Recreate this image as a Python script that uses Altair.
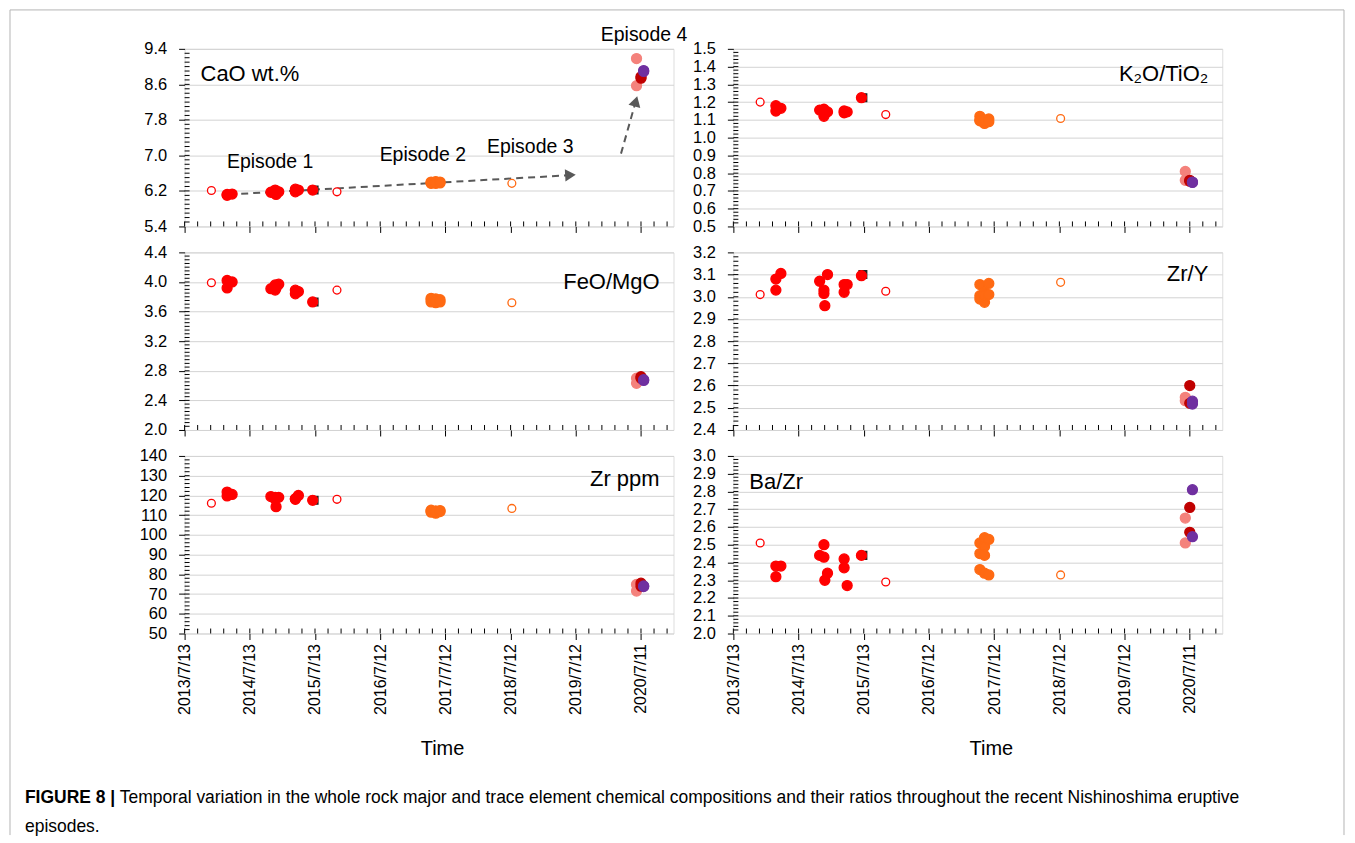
import datetime as dt
import altair as alt
import pandas as pd

# ---------------- data ----------------
sample_dates = [
    "2013/12/10",
    "2014/03/08", "2014/03/08", "2014/04/05",
    "2014/11/08", "2014/12/02", "2014/12/02", "2014/12/07", "2014/12/22",
    "2015/03/25", "2015/03/25", "2015/04/11",
    "2015/07/08",
    "2015/06/30",
    "2015/11/13",
    "2017/04/23", "2017/04/23", "2017/04/23",
    "2017/05/19", "2017/05/19", "2017/05/19", "2017/05/19",
    "2017/06/12", "2017/06/12",
    "2018/07/19",
    "2020/06/16", "2020/06/16",
    "2020/07/11", "2020/07/11",
    "2020/07/26", "2020/07/26",
]
sample_kind = (["E1o"] + ["E1"] * 11 + ["SQ"] + ["E1"] + ["E1o"] + ["E2"] * 9 + ["E3o"]
               + ["E4a"] * 2 + ["E4b"] * 2 + ["E4c"] * 2)

cao = [6.21, 6.12, 6.10, 6.13, 6.17, 6.22, 6.15, 6.12, 6.18, 6.24, 6.18, 6.22,
       6.22, 6.22, 6.18, 6.38, 6.40, 6.37, 6.39, 6.38, 6.41, 6.37, 6.40, 6.38, 6.37,
       9.18, 8.57, 8.77, 8.74, 8.91, 8.89]
k2o_tio2 = [1.20, 1.18, 1.15, 1.165, 1.155, 1.16, 1.12, 1.145, 1.145, 1.15, 1.14,
            1.145, 1.225, 1.225, 1.13, 1.12, 1.10, 1.095, 1.09, 1.08, 1.085, 1.10, 1.105,
            1.09, 1.108, 0.81, 0.76, 0.76, 0.755, 0.75, 0.748]
feo_mgo = [3.99, 4.02, 3.92, 4.00, 3.91, 3.96, 3.89, 3.92, 3.97, 3.89, 3.84, 3.87,
           3.73, 3.73, 3.89, 3.78, 3.73, 3.76, 3.75, 3.72, 3.77, 3.74, 3.76, 3.73, 3.72,
           2.70, 2.63, 2.72, 2.70, 2.68, 2.67]
zr_y = [3.01, 3.08, 3.03, 3.105, 3.07, 3.03, 3.015, 2.96, 3.10, 3.02, 3.055, 3.055,
        3.10, 3.095, 3.025, 3.055, 3.005, 2.99, 2.975, 3.02, 3.00, 3.01, 3.06, 3.01, 3.065,
        2.547, 2.532, 2.60, 2.52, 2.53, 2.517]
zr_ppm = [116, 121.7, 119.7, 120.5, 119.4, 118, 119, 114.3, 119, 118.3, 118, 120,
          117.5, 117.5, 118, 112, 111.5, 112.5, 111, 112, 111.5, 112, 111.8, 112.3, 113.4,
          74.9, 71.5, 75.5, 74, 74.1, 73.8]
ba_zr = [2.51, 2.38, 2.32, 2.38, 2.44, 2.50, 2.43, 2.30, 2.34, 2.42, 2.37, 2.27,
         2.44, 2.44, 2.29, 2.51, 2.45, 2.36, 2.54, 2.49, 2.44, 2.34, 2.53, 2.33, 2.33,
         2.65, 2.51, 2.71, 2.57, 2.81, 2.545]

x_tick_labels = ["2013/7/13", "2014/7/13", "2015/7/13", "2016/7/12",
                 "2017/7/12", "2018/7/12", "2019/7/12", "2020/7/11"]
x_domain = ["2013/7/13", "2021/1/9"]

episode_text = ["Episode 1", "Episode 2", "Episode 3", "Episode 4"]
episode_dates = ["2014/11/04", "2017/03/08", "2018/10/30", "2020/07/28"]
episode_vals = [6.86, 7.0, 7.19, 9.72]

arrow1_dates = ["2014/03/20", "2019/06/12"]
arrow1_vals = [6.12, 6.555]
arrow2_dates = ["2020/03/21", "2020/06/12"]
arrow2_vals = [7.04, 8.22]

caption_bold = "FIGURE 8 |"
caption_line1 = ("Temporal variation in the whole rock major and trace element chemical "
                 "compositions and their ratios throughout the recent Nishinoshima eruptive")
caption_line2 = "episodes."

# ---------------- styling ----------------
FONT = "Liberation Sans"
W, H = 490, 178
RED, ORANGE = "#FF0000", "#FF6A13"
kind_style = {
    "SQ": dict(shape="square", fill="#222222", stroke="#222222", size=60),
    "E1o": dict(shape="circle", fill="white", stroke=RED, size=62),
    "E1": dict(shape="circle", fill=RED, stroke=RED, size=100),
    "E2": dict(shape="circle", fill=ORANGE, stroke=ORANGE, size=100),
    "E3o": dict(shape="circle", fill="white", stroke=ORANGE, size=62),
    "E4a": dict(shape="circle", fill="#F4827C", stroke="#F4827C", size=100),
    "E4b": dict(shape="circle", fill="#C00000", stroke="#C00000", size=100),
    "E4c": dict(shape="circle", fill="#7030A0", stroke="#7030A0", size=100),
}


def to_dt(s):
    y, m, d = (int(p) for p in s.split("/"))
    return alt.DateTime(year=y, month=m, date=d)


x_vals = [to_dt(s) for s in x_tick_labels]
xscale = alt.Scale(domain=[to_dt(x_domain[0]), to_dt(x_domain[1])], nice=False)

d0 = dt.date(2013, 7, 13)
d1 = dt.date(2021, 1, 9)
x_minor = []
k = 0
while d0 + dt.timedelta(days=73 * k) <= d1:
    d = d0 + dt.timedelta(days=73 * k)
    x_minor.append(f"{d.year}/{d.month:02d}/{d.day:02d}")
    k += 1


def x_enc(bottom):
    if bottom:
        ax = alt.Axis(values=x_vals, labelExpr="timeFormat(datum.value, '%Y/%-m/%-d')",
                      labelAngle=270, labelFontSize=16, labelFont=FONT, labelColor="black",
                      labelPadding=4, tickSize=6, tickColor="black", grid=False, domain=False,
                      titleFontSize=20, titleFont=FONT, titleFontWeight="normal",
                      titleColor="black", titlePadding=24, titleX=W / 2 + 13)
        return alt.X("date:T", scale=xscale, axis=ax, title="Time")
    ax = alt.Axis(values=x_vals, labels=False, tickSize=6, tickColor="black",
                  grid=False, domain=False)
    return alt.X("date:T", scale=xscale, axis=ax, title=None)


def panel(values, label, side, label_y, ymin, ymax, ystep, yminor, fmt, bottom, extra=None):
    nmaj = int(round((ymax - ymin) / ystep))
    majors = [round(ymin + i * ystep, 6) for i in range(nmaj + 1)]
    nmin = int(round((ymax - ymin) / yminor))
    minors = [round(ymin + i * yminor, 6) for i in range(1, nmin)]
    yscale = alt.Scale(domain=[ymin, ymax], nice=False, zero=False)
    yax = alt.Axis(values=majors, format=fmt, tickSize=6, tickColor="black",
                   labelPadding=12, labelFontSize=16.5, labelFont=FONT, labelColor="black",
                   grid=True, gridColor="#d3d3d3", gridWidth=1, domain=False)
    Y = alt.Y("val:Q", scale=yscale, axis=yax, title=None)
    X = x_enc(bottom)

    df = pd.DataFrame({"date": sample_dates, "val": values, "kind": sample_kind})
    layers = []
    layers.append(alt.Chart(pd.DataFrame({"val": minors})).mark_rule(
        color="black", strokeWidth=1).encode(y=Y, x=alt.value(0), x2=alt.value(5)))
    layers.append(alt.Chart(pd.DataFrame({"date": x_minor})).mark_rule(
        color="black", strokeWidth=1).encode(x=X, y=alt.value(H), y2=alt.value(H - 5)))
    if extra:
        layers += extra(X, Y)
    for kname, st in kind_style.items():
        sub = df[df["kind"] == kname]
        if len(sub) == 0:
            continue
        layers.append(alt.Chart(sub).mark_point(
            shape=st["shape"], filled=True, opacity=1, fill=st["fill"], stroke=st["stroke"],
            strokeWidth=1.3, size=st["size"]).encode(x=X, y=Y))
    if side == "left":
        lab = alt.Chart(pd.DataFrame({"t": [label]})).mark_text(
            align="left", baseline="middle", fontSize=22, font=FONT, color="black"
        ).encode(text="t:N", x=alt.value(16), y=alt.value(label_y))
    else:
        lab = alt.Chart(pd.DataFrame({"t": [label]})).mark_text(
            align="right", baseline="middle", fontSize=22, font=FONT, color="black"
        ).encode(text="t:N", x=alt.value(W - 14), y=alt.value(label_y))
    layers.append(lab)
    return layers


def cao_extra(X, Y):
    arr = pd.DataFrame({
        "arrow": ["a"] * 2 + ["b"] * 2,
        "date": arrow1_dates + arrow2_dates,
        "val": arrow1_vals + arrow2_vals,
    })
    line = alt.Chart(arr).mark_line(color="#595959", strokeWidth=2, strokeDash=[7, 5]).encode(
        x=X, y=Y, detail="arrow:N")
    h1 = alt.Chart(pd.DataFrame({"date": [arrow1_dates[1]], "val": [arrow1_vals[1]]})).mark_point(
        shape="triangle-right", filled=True, size=150, color="#595959", opacity=1,
        angle=356.8).encode(x=X, y=Y)
    h2 = alt.Chart(pd.DataFrame({"date": [arrow2_dates[1]], "val": [arrow2_vals[1]]})).mark_point(
        shape="triangle-up", filled=True, size=150, color="#595959", opacity=1,
        angle=15.6).encode(x=X, y=Y)
    ep = alt.Chart(pd.DataFrame({"date": episode_dates, "val": episode_vals, "t": episode_text})
                   ).mark_text(fontSize=19.5, font=FONT, color="black", baseline="middle").encode(
        x=X, y=Y, text="t:N")
    return [line, h1, h2, ep]


def zr_extra(X, Y):
    # figure frame (left, top, right edges) and caption, placed relative to this panel
    frame_l = alt.Chart(pd.DataFrame({"t": [0]})).mark_rule(color="#b4b4b4", strokeWidth=1).encode(
        x=alt.value(-175), y=alt.value(-447), y2=alt.value(380))
    frame_t = alt.Chart(pd.DataFrame({"t": [0]})).mark_rule(color="#b4b4b4", strokeWidth=1).encode(
        x=alt.value(-175), x2=alt.value(1162), y=alt.value(-447))
    frame_r = alt.Chart(pd.DataFrame({"t": [0]})).mark_rule(color="#b4b4b4", strokeWidth=1).encode(
        x=alt.value(1162), y=alt.value(-447), y2=alt.value(380))
    c1 = alt.Chart(pd.DataFrame({"t": [caption_bold]})).mark_text(
        align="left", baseline="middle", fontSize=17.5, font=FONT, fontWeight="bold",
        color="black").encode(text="t:N", x=alt.value(-160), y=alt.value(343))
    c2 = alt.Chart(pd.DataFrame({"t": [caption_line1]})).mark_text(
        align="left", baseline="middle", fontSize=17.5, font=FONT, color="black").encode(
        text="t:N", x=alt.value(-65), y=alt.value(343))
    c3 = alt.Chart(pd.DataFrame({"t": [caption_line2]})).mark_text(
        align="left", baseline="middle", fontSize=17.5, font=FONT, color="black").encode(
        text="t:N", x=alt.value(-160), y=alt.value(372))
    return [frame_l, frame_t, frame_r, c1, c2, c3]


specs = [
    (cao, "CaO wt.%", "left", 25, 5.4, 9.4, 0.8, 0.1, ".1f", False, cao_extra),
    (k2o_tio2, "K\u2082O/TiO\u2082", "right", 25, 0.5, 1.5, 0.1, 0.02, ".1f", False, None),
    (feo_mgo, "FeO/MgO", "right", 30, 2.0, 4.4, 0.4, 0.05, ".1f", False, None),
    (zr_y, "Zr/Y", "right", 22, 2.4, 3.2, 0.1, 0.02, ".1f", False, None),
    (zr_ppm, "Zr ppm", "right", 23, 50, 140, 10, 2, "d", True, zr_extra),
    (ba_zr, "Ba/Zr", "left", 26, 2.0, 3.0, 0.1, 0.02, ".1f", True, None),
]

charts = []
for s in specs:
    layers = panel(*s)
    charts.append(alt.layer(*layers).properties(width=W, height=H))

chart = alt.concat(*charts, columns=2, spacing={"row": 26, "column": 60}, bounds="flush").properties(
    padding={"left": 1, "top": 0, "right": 2, "bottom": 2}
).configure_view(stroke="black", strokeWidth=1.3).configure(background="white")

chart.save("out.html", embed_options={"renderer": "svg", "actions": False})
